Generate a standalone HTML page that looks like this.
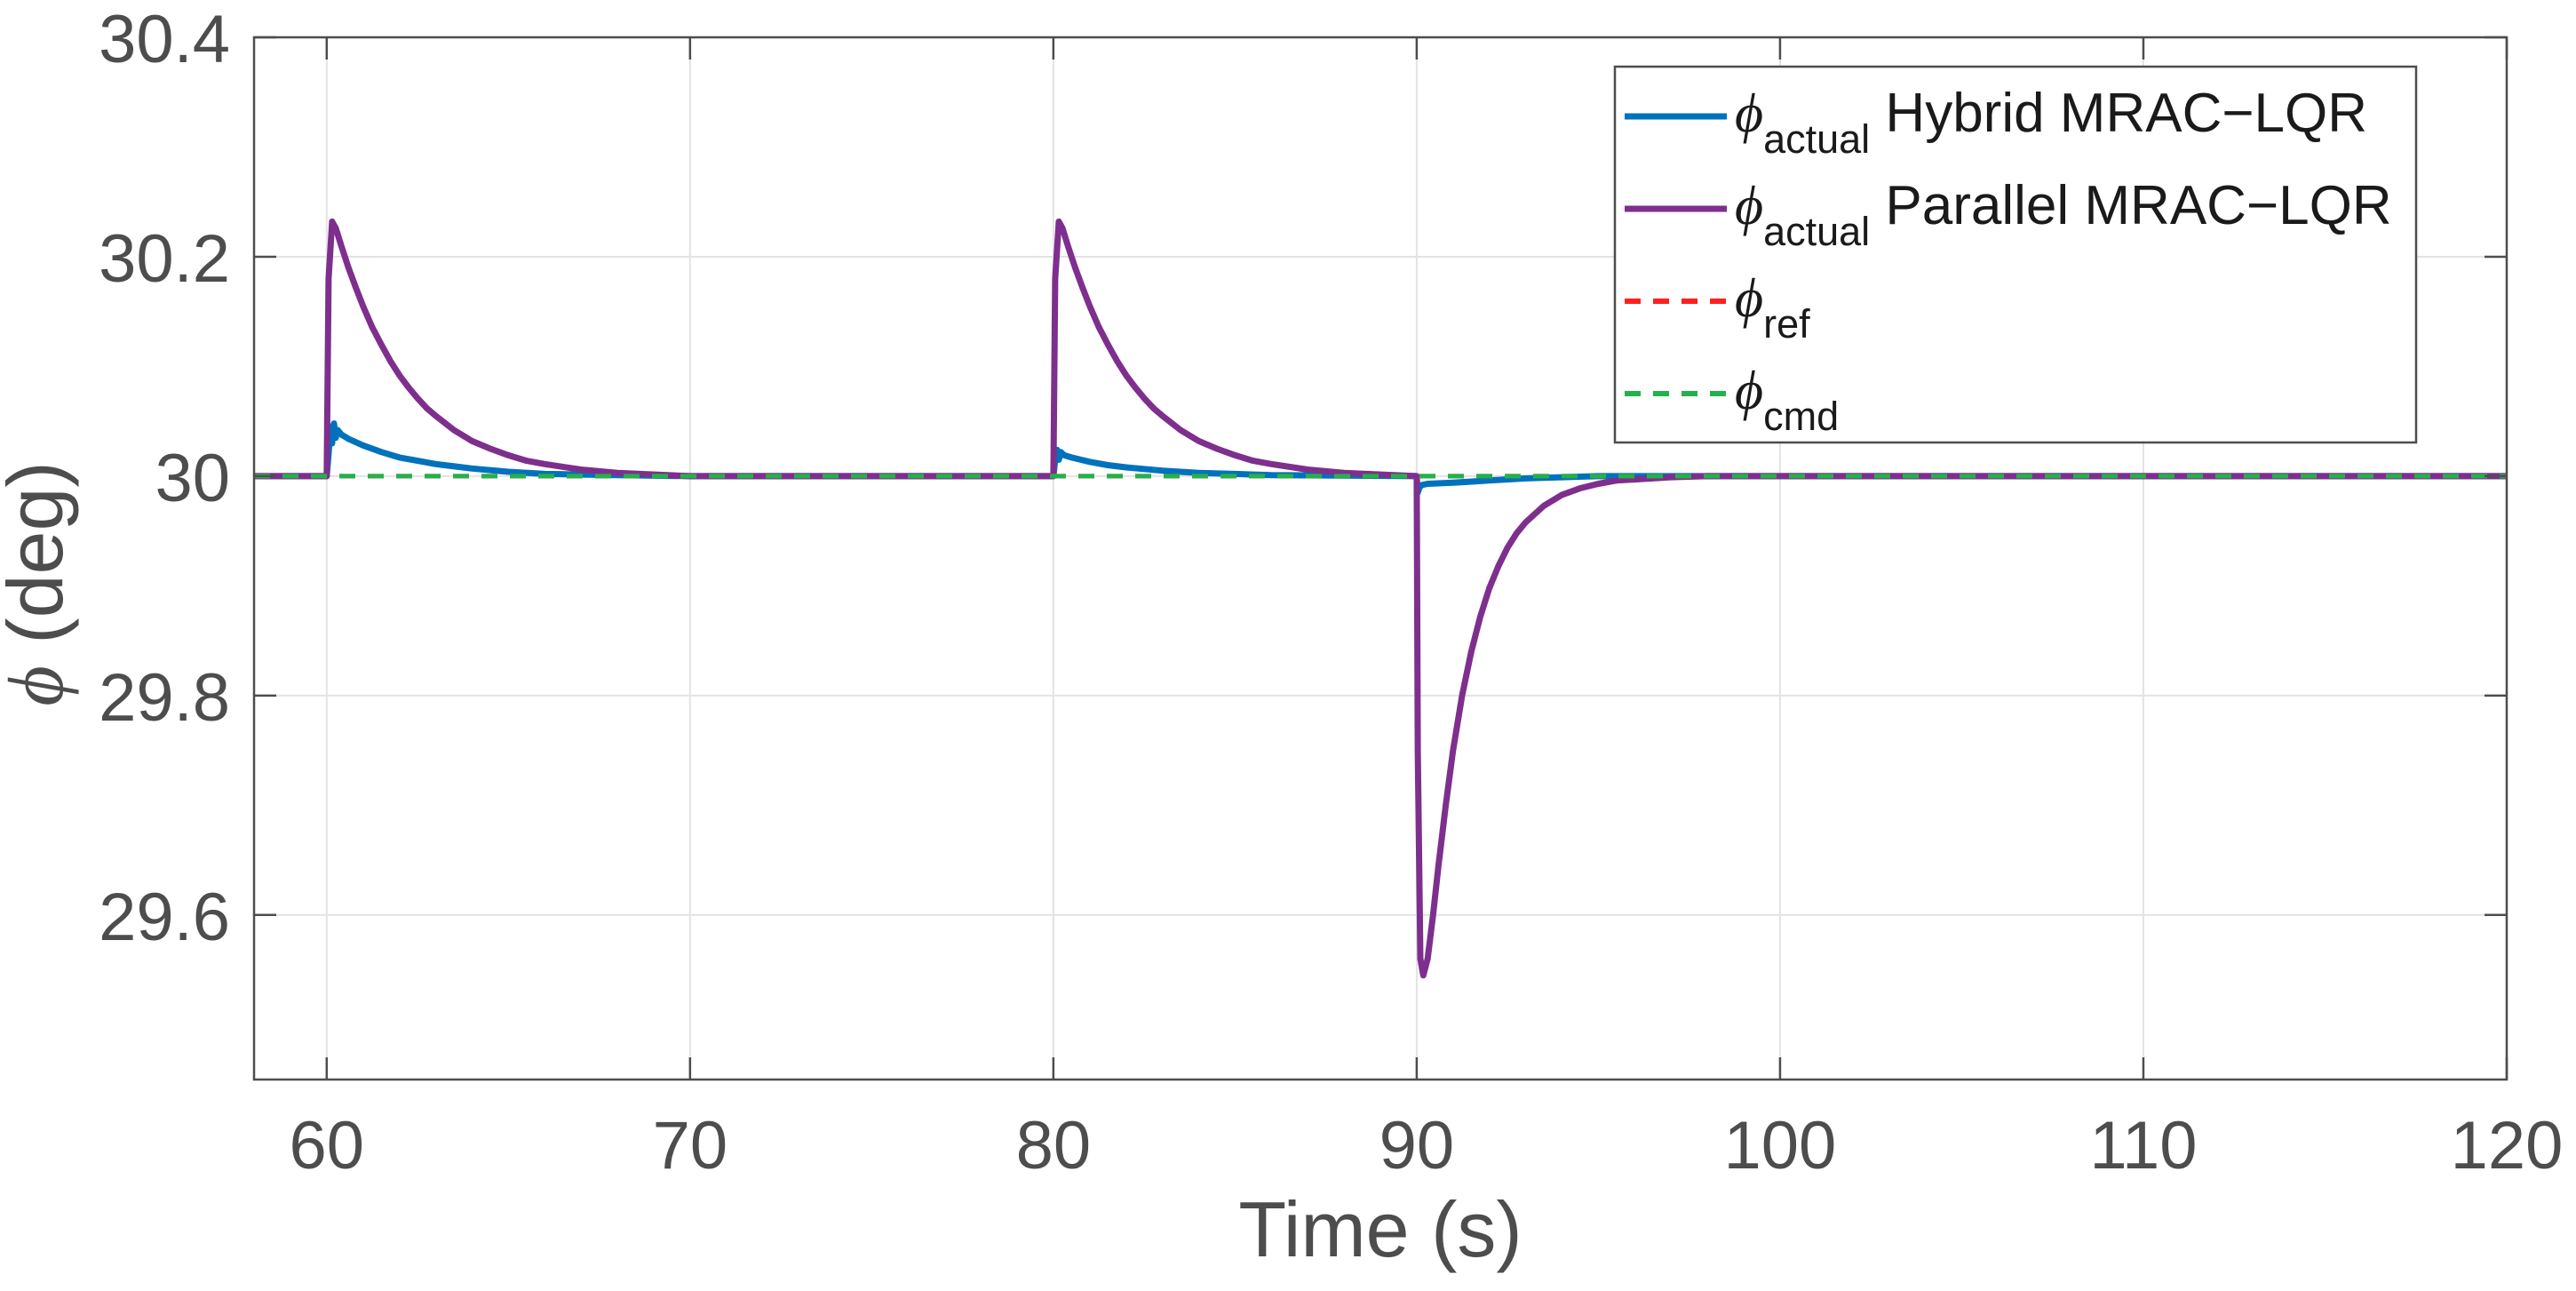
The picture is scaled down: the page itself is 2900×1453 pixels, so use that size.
<!DOCTYPE html>
<html><head><meta charset="utf-8"><style>
html,body{margin:0;padding:0;background:#fff;}
svg{display:block;font-family:"Liberation Sans",Arial,sans-serif;}
</style></head><body>
<svg id="chart" width="2900" height="1453" viewBox="0 0 2900 1453" xmlns="http://www.w3.org/2000/svg">
<rect x="0" y="0" width="2900" height="1453" fill="#fff"/>
<g id="grid"></g>
<g id="series"></g>
<g id="axes"></g>
<text x="1554" y="1414" font-size="88" fill="#4d4d4d" text-anchor="middle">Time (s)</text>
<text transform="translate(70,657) rotate(-90)" font-size="88" fill="#4d4d4d" text-anchor="middle"><tspan font-family="'Liberation Serif',serif" font-style="italic">ϕ</tspan> (deg)</text>
<g id="legend">
<rect x="1818" y="75" width="902" height="423" fill="#fff" stroke="#4d4d4d" stroke-width="2.5"/>
<g>
<line x1="1829" y1="131" x2="1944" y2="131" stroke="#0072BD" stroke-width="7"/>
<text x="1953" y="148" font-size="62" fill="#1a1a1a"><tspan font-family="'Liberation Serif',serif" font-style="italic">ϕ</tspan><tspan font-size="45" dy="24">actual</tspan><tspan dy="-24"> Hybrid MRAC−LQR</tspan></text>
</g>
<g>
<line x1="1829" y1="235" x2="1944" y2="235" stroke="#7E2F8E" stroke-width="7"/>
<text x="1953" y="252" font-size="62" fill="#1a1a1a"><tspan font-family="'Liberation Serif',serif" font-style="italic">ϕ</tspan><tspan font-size="45" dy="24">actual</tspan><tspan dy="-24"> Parallel MRAC−LQR</tspan></text>
</g>
<g>
<line x1="1829" y1="339" x2="1944" y2="339" stroke="#FF1F1F" stroke-width="6" stroke-dasharray="18,14"/>
<text x="1953" y="356" font-size="62" fill="#1a1a1a"><tspan font-family="'Liberation Serif',serif" font-style="italic">ϕ</tspan><tspan font-size="45" dy="24">ref</tspan></text>
</g>
<g>
<line x1="1829" y1="443" x2="1944" y2="443" stroke="#22B24C" stroke-width="6" stroke-dasharray="18,14"/>
<text x="1953" y="460" font-size="62" fill="#1a1a1a"><tspan font-family="'Liberation Serif',serif" font-style="italic">ϕ</tspan><tspan font-size="45" dy="24">cmd</tspan></text>
</g>
</g>
</svg>
<script>
const xTicks = [60, 70, 80, 90, 100, 110, 120];
const yTicks = [29.6, 29.8, 30, 30.2, 30.4];
const yTickLabels = ["29.6", "29.8", "30", "30.2", "30.4"];
const timeParallel = [58,60,60.05,60.15,60.25,60.4,60.6,60.8,61,61.25,61.5,61.75,62,62.25,62.5,62.75,63,63.5,64,64.5,65,65.5,66,67,68,70,
  80,80.05,80.15,80.25,80.4,80.6,80.8,81,81.25,81.5,81.75,82,82.25,82.5,82.75,83,83.5,84,84.5,85,85.5,86,87,88,90,
  90.03,90.1,90.18,90.3,90.45,90.6,90.8,91,91.25,91.5,91.75,92,92.25,92.5,92.75,93,93.5,94,94.5,95,95.5,96,97,98,100,120];
const valParallel = [30,30,30.18,30.232,30.226,30.21,30.19,30.172,30.155,30.136,30.12,30.105,30.092,30.081,30.071,30.062,30.055,30.042,30.032,30.025,30.019,30.014,30.011,30.006,30.003,30.0,
  30,30.18,30.232,30.226,30.21,30.19,30.172,30.155,30.136,30.12,30.105,30.092,30.081,30.071,30.062,30.055,30.042,30.032,30.025,30.019,30.014,30.011,30.006,30.003,30.0,
  29.75,29.56,29.545,29.56,29.6,29.645,29.7,29.75,29.8,29.84,29.872,29.898,29.918,29.935,29.948,29.958,29.973,29.983,29.989,29.993,29.996,29.997,29.999,30,30,30];
const timeHybrid = [58,60,60.05,60.1,60.15,60.2,60.25,60.3,60.4,60.6,61,61.5,62,62.5,63,64,65,66,68,70,
  80,80.05,80.1,80.15,80.2,80.3,80.5,81,81.5,82,83,84,86,90,
  90.03,90.08,90.15,90.3,91,92,93,94,95,96,120];
const valHybrid = [30,30,30.02,30.045,30.03,30.048,30.035,30.042,30.038,30.034,30.028,30.022,30.017,30.014,30.011,30.007,30.004,30.002,30.001,30,
  30,30.015,30.024,30.015,30.022,30.019,30.017,30.013,30.01,30.008,30.005,30.003,30.001,30,
  29.985,29.99,29.992,29.993,29.994,29.996,29.998,29.999,30,30,30];
const refTime = [58, 120];
const refVal = [30, 30];

const NS = "http://www.w3.org/2000/svg";
const L = 286, R = 2822, T = 42, B = 1215;
const xMin = 58, xMax = 120, yMin = 29.45, yMax = 30.4;
function xs(v){ return L + (v - xMin) / (xMax - xMin) * (R - L); }
function ys(v){ return B - (v - yMin) / (yMax - yMin) * (B - T); }
function mk(tag, attrs, parent){ const e = document.createElementNS(NS, tag); for (const k in attrs) e.setAttribute(k, attrs[k]); parent.appendChild(e); return e; }

const grid = document.getElementById('grid');
const axes = document.getElementById('axes');
const series = document.getElementById('series');

xTicks.forEach(function(t){
  const g = mk('line', {x1: xs(t), x2: xs(t), y1: T, y2: B, stroke: '#e3e3e3', 'stroke-width': 2}, grid);
  
  
  const tk = mk('line', {x1: xs(t), x2: xs(t), y1: B, y2: B - 25, stroke: '#4d4d4d', 'stroke-width': 2.5}, axes);
  
  
  const tk2 = mk('line', {x1: xs(t), x2: xs(t), y1: T, y2: T + 25, stroke: '#4d4d4d', 'stroke-width': 2.5}, axes);
  
  
  const lb = mk('text', {x: xs(t), y: 1315, 'font-size': 76, fill: '#4d4d4d', 'text-anchor': 'middle'}, axes);
  lb.textContent = String(t);
  
  
});
yTicks.forEach(function(t, i){
  const g = mk('line', {x1: L, x2: R, y1: ys(t), y2: ys(t), stroke: '#e3e3e3', 'stroke-width': 2}, grid);
  
  
  const tk = mk('line', {x1: L, x2: L + 25, y1: ys(t), y2: ys(t), stroke: '#4d4d4d', 'stroke-width': 2.5}, axes);
  
  
  const tk2 = mk('line', {x1: R, x2: R - 25, y1: ys(t), y2: ys(t), stroke: '#4d4d4d', 'stroke-width': 2.5}, axes);
  
  
  const lb = mk('text', {x: 259, y: ys(t) + 28, 'font-size': 76, fill: '#4d4d4d', 'text-anchor': 'end'}, axes);
  lb.textContent = yTickLabels[i];
  
  
});
const box = mk('rect', {x: L, y: T, width: R - L, height: B - T, fill: 'none', stroke: '#4d4d4d', 'stroke-width': 2.5}, axes);



function pts(tx, vy){ return tx.map(function(t, i){ return xs(t).toFixed(1) + ',' + ys(vy[i]).toFixed(1); }).join(' '); }
const s1 = mk('polyline', {points: pts(timeHybrid, valHybrid), fill: 'none', stroke: '#0072BD', 'stroke-width': 7, 'stroke-linejoin': 'round'}, series);


const s2 = mk('polyline', {points: pts(timeParallel, valParallel), fill: 'none', stroke: '#7E2F8E', 'stroke-width': 7, 'stroke-linejoin': 'round'}, series);


const s3 = mk('polyline', {points: pts(refTime, refVal), fill: 'none', stroke: '#FF1F1F', 'stroke-width': 5, 'stroke-dasharray': '18,14'}, series);


const s4 = mk('polyline', {points: pts(refTime, refVal), fill: 'none', stroke: '#22B24C', 'stroke-width': 5, 'stroke-dasharray': '18,14'}, series);


</script>
</body></html>
